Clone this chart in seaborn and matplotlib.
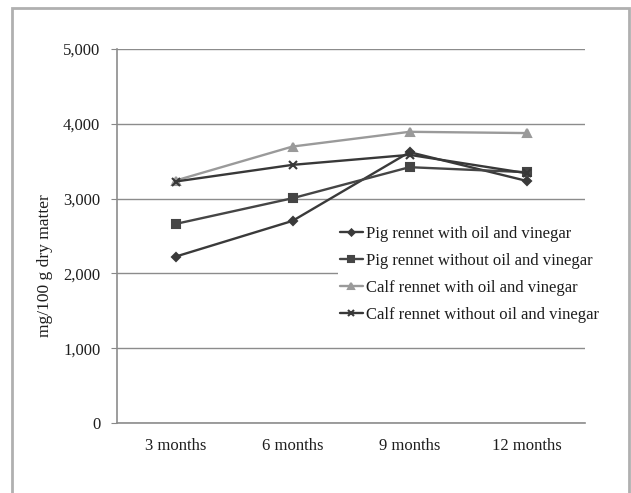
import pandas as pd
import matplotlib.pyplot as plt
import seaborn as sns
from matplotlib.patches import Rectangle
from matplotlib.ticker import FuncFormatter

# values (mg/100 g dry matter)
months = ["3 months", "6 months", "9 months", "12 months"]
pig_with = [2224, 2702, 3621, 3237]
pig_without = [2661, 3005, 3420, 3353]
calf_with = [3241, 3696, 3893, 3876]
calf_without = [3228, 3451, 3585, 3340]

series_names = [
    "Pig rennet with oil and vinegar",
    "Pig rennet without oil and vinegar",
    "Calf rennet with oil and vinegar",
    "Calf rennet without oil and vinegar",
]
series_values = [pig_with, pig_without, calf_with, calf_without]

rows = []
for name, vals in zip(series_names, series_values):
    for i, v in enumerate(vals):
        rows.append({"series": name, "pos": i, "value": v})
df = pd.DataFrame(rows)

sns.set_style("white")
plt.rcParams["font.family"] = ["Liberation Serif", "DejaVu Serif"]

colors = ["#3a3a3a", "#454545", "#9a9a9a", "#383838"]
markers = ["D", "s", "^", "x"]
msizes = [4.5, 6, 6, 6]

fig = plt.figure(figsize=(6.31, 4.93), dpi=100)
ax = fig.add_axes([117 / 631, 1 - 423 / 493, 468 / 631, 374 / 493])

for name, c, m, ms in zip(series_names, colors, markers, msizes):
    sub = df[df["series"] == name]
    sns.lineplot(data=sub, x="pos", y="value", ax=ax, color=c, marker=m,
                 markersize=ms, markeredgecolor=c, markeredgewidth=1.5,
                 linewidth=1.7, label=name, zorder=3)

ax.set_xlim(-0.5, 3.5)
ax.set_ylim(0, 5000)
ax.set_yticks(range(0, 5001, 1000))
ax.yaxis.set_major_formatter(FuncFormatter(lambda v, p: f"{int(v):,}"))
ax.grid(axis="y", color="#8c8c8c", linewidth=1)
ax.set_axisbelow(True)

ax.set_xticks([-0.5, 0.5, 1.5, 2.5, 3.5])
ax.set_xticklabels([])
ax.set_xticks(range(len(months)), minor=True)
ax.set_xticklabels(months, minor=True)
ax.tick_params(axis="x", which="major", length=4, color="#888888", direction="out")
ax.tick_params(axis="x", which="minor", length=0, pad=11, labelsize=12, labelcolor="#1e1e1e")
ax.tick_params(axis="y", length=4, color="#888888", direction="out", pad=8,
               labelsize=12, labelcolor="#1e1e1e", left=True)

for s in ["top", "right"]:
    ax.spines[s].set_visible(False)
for s in ["left", "bottom"]:
    ax.spines[s].set_color("#8c8c8c")
    ax.spines[s].set_linewidth(1.2)

ax.set_xlabel("")
ax.set_ylabel("mg/100 g dry matter", fontsize=12.5, color="#1e1e1e")
ax.yaxis.set_label_coords(-0.137, 0.42)

leg = ax.legend(loc="upper left", bbox_to_anchor=(338 / 631, 1 - 224 / 493),
                bbox_transform=fig.transFigure, frameon=True, fontsize=12,
                handlelength=1.4, handletextpad=0.15, labelspacing=0.66,
                borderpad=0.1, borderaxespad=0, markerscale=0.7)
leg.get_frame().set_facecolor("white")
leg.get_frame().set_edgecolor("none")
leg.get_frame().set_alpha(1)
for t in leg.get_texts():
    t.set_color("#1e1e1e")

# outer border of the chart area
fig.patches.append(Rectangle((12 / 631, -0.05), 617 / 631, 1.05 - 8 / 493,
                             transform=fig.transFigure, fill=False,
                             edgecolor="#b0b0b0", linewidth=2))

fig.savefig("out.png", dpi=100)
